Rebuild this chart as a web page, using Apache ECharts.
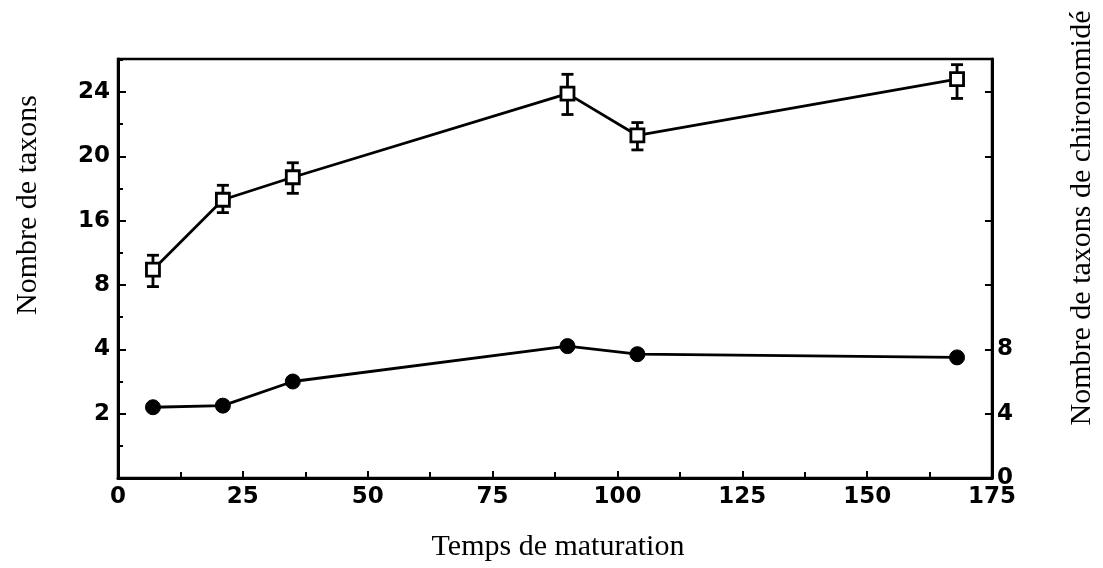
<!DOCTYPE html>
<html>
<head>
<meta charset="utf-8">
<script src="https://cdn.jsdelivr.net/npm/echarts@6/dist/echarts.min.js"></script>
<style>html,body{margin:0;padding:0;background:#fff;}#c{width:1103px;height:568px;}</style>
</head>
<body>
<div id="c"></div>
<script>
// Data
const days = [7, 21, 35, 90, 104, 168];
const taxaMean = [9.9, 17.3, 18.7, 23.9, 21.3, 24.8];
const taxaLow = [7.9, 16.5, 17.7, 22.6, 20.4, 23.6];
const taxaHigh = [11.7, 18.2, 19.6, 25.1, 22.1, 25.7];
const chiroMean = [4.4, 4.5, 6.0, 8.2, 7.7, 7.5];
// Left axis: equally spaced ticks carrying these labels (broken scale)
const leftTickValues = [0, 2, 4, 8, 16, 20, 24];
const leftTickLabels = ['', '2', '4', '8', '16', '20', '24'];
const rightTickLabels = ['0', '4', '8'];
const xTickLabels = ['0', '25', '50', '75', '100', '125', '150', '175'];

function toPos(v) {
  const t = leftTickValues;
  for (let i = 1; i < t.length; i++) {
    if (v <= t[i]) return (i - 1) + (v - t[i - 1]) / (t[i] - t[i - 1]);
  }
  const n = t.length - 1;
  return n + (v - t[n]) / (t[n] - t[n - 1]);
}

const leftMax = 6.513;
const rightMax = leftMax * 4;

const chart = echarts.init(document.getElementById('c'), null, {renderer: 'canvas'});
const tickFont = {color: '#000', fontFamily: 'DejaVu Sans', fontWeight: 'bold', fontSize: 23};

chart.setOption({
  animation: false,
  backgroundColor: '#fff',
  grid: {left: 118, right: 111, top: 59, bottom: 90, show: true, borderColor: '#000', borderWidth: 2.5, backgroundColor: 'transparent'},
  xAxis: {
    type: 'value', min: 0, max: 175, interval: 25,
    axisLine: {show: true, lineStyle: {color: '#000', width: 3}},
    axisTick: {show: true, inside: true, length: 7, lineStyle: {color: '#000', width: 2}},
    minorTick: {show: true, splitNumber: 2, length: 6, lineStyle: {color: '#000', width: 2}},
    splitLine: {show: false},
    axisLabel: Object.assign({margin: 8, formatter: function (v) { const i = Math.round(v / 25); return Math.abs(v - i * 25) < 1e-6 ? (xTickLabels[i] || '') : ''; }}, tickFont)
  },
  yAxis: [{
    type: 'value', min: 0, max: leftMax, interval: 1, position: 'left',
    axisLine: {show: true, lineStyle: {color: '#000', width: 3}},
    axisTick: {show: true, inside: true, length: 8, lineStyle: {color: '#000', width: 2}},
    minorTick: {show: true, splitNumber: 2, length: 5, lineStyle: {color: '#000', width: 2}},
    splitLine: {show: false},
    showMaxLabel: false,
    axisLabel: Object.assign({margin: 8, formatter: function (v) { const i = Math.round(v); return Math.abs(v - i) < 1e-6 ? (leftTickLabels[i] || '') : ''; }}, tickFont)
  }, {
    type: 'value', min: 0, max: rightMax, interval: 4, position: 'right',
    axisLine: {show: true, lineStyle: {color: '#000', width: 3}},
    axisTick: {show: true, inside: true, length: 7, lineStyle: {color: '#000', width: 2}},
    splitLine: {show: false},
    showMaxLabel: false,
    axisLabel: Object.assign({margin: 5, formatter: function (v) { const i = Math.round(v / 4); return Math.abs(v - i * 4) < 1e-6 ? (rightTickLabels[i] || '') : ''; }}, tickFont)
  }],
  series: [{
    type: 'custom', yAxisIndex: 0, z: 1,
    data: days.map((d, i) => [d, toPos(taxaLow[i]), toPos(taxaHigh[i])]),
    renderItem: function (params, api) {
      const x = api.value(0);
      const lo = api.coord([x, api.value(1)]);
      const hi = api.coord([x, api.value(2)]);
      const w = 6;
      const st = {stroke: '#000', lineWidth: 2.8};
      return {type: 'group', children: [
        {type: 'line', shape: {x1: lo[0], y1: lo[1], x2: hi[0], y2: hi[1]}, style: st},
        {type: 'line', shape: {x1: lo[0] - w, y1: lo[1], x2: lo[0] + w, y2: lo[1]}, style: st},
        {type: 'line', shape: {x1: hi[0] - w, y1: hi[1], x2: hi[0] + w, y2: hi[1]}, style: st}
      ]};
    }
  }, {
    type: 'line', yAxisIndex: 0, z: 3,
    data: days.map((d, i) => [d, toPos(taxaMean[i])]),
    symbol: 'rect', symbolSize: 13,
    lineStyle: {color: '#000', width: 2.8},
    itemStyle: {color: '#fff', borderColor: '#000', borderWidth: 2.8}
  }, {
    type: 'line', yAxisIndex: 1, z: 3,
    data: days.map((d, i) => [d, chiroMean[i]]),
    symbol: 'circle', symbolSize: 15,
    lineStyle: {color: '#000', width: 2.8},
    itemStyle: {color: '#000', borderColor: '#000', borderWidth: 1}
  }],
  graphic: [
    {type: 'text', x: 28, y: 205, rotation: Math.PI / 2, style: {text: 'Nombre de taxons', fill: '#000', font: '30px "Liberation Serif"', textAlign: 'center', textVerticalAlign: 'middle'}},
    {type: 'text', x: 1082, y: 218, rotation: Math.PI / 2, style: {text: 'Nombre de taxons de chironomidé', fill: '#000', font: '30px "Liberation Serif"', textAlign: 'center', textVerticalAlign: 'middle'}},
    {type: 'text', x: 558, y: 547, style: {text: 'Temps de maturation', fill: '#000', font: '30px "Liberation Serif"', textAlign: 'center', textVerticalAlign: 'middle'}}
  ]
});
</script>
</body>
</html>
